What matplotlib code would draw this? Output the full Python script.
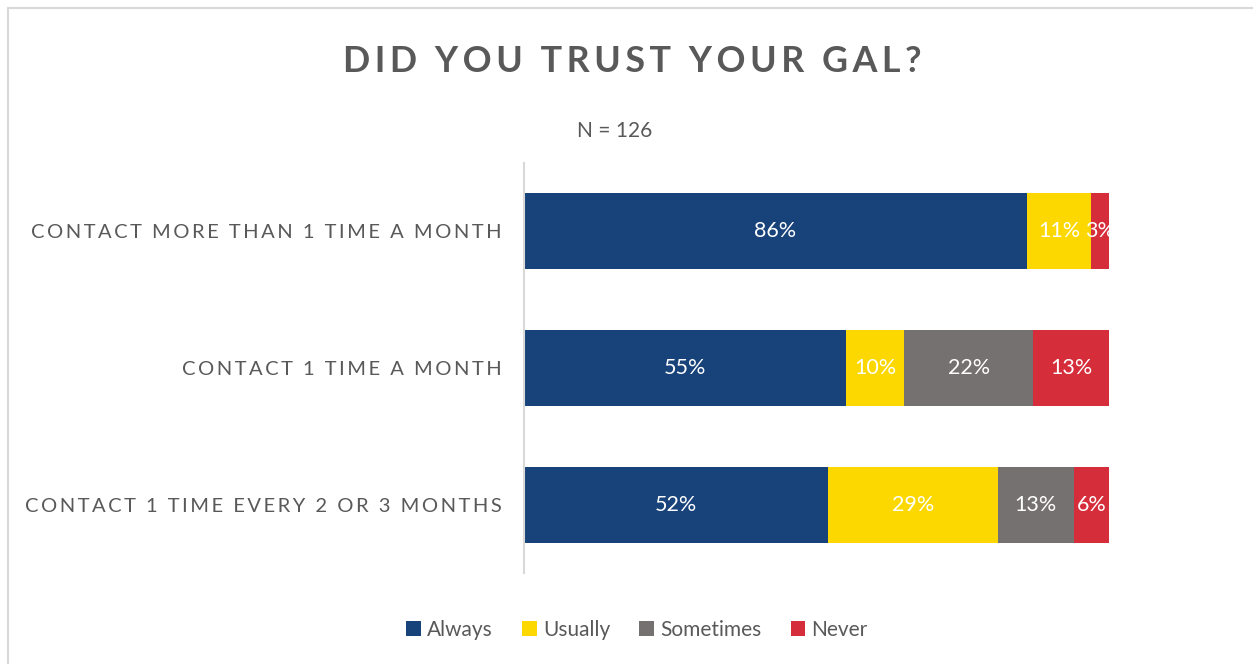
import matplotlib.pyplot as plt
from matplotlib.patches import Rectangle

categories = ["CONTACT MORE THAN 1 TIME A MONTH",
              "CONTACT 1 TIME A MONTH",
              "CONTACT 1 TIME EVERY 2 OR 3 MONTHS"]
series = ["Always", "Usually", "Sometimes", "Never"]
always = [86, 55, 52]
usually = [11, 10, 29]
sometimes = [0, 22, 13]
never = [3, 13, 6]

colors = ["#17427A", "#FCD800", "#767171", "#D62D3A"]
GRAY = "#595959"
FONT = ["Lato", "DejaVu Sans"]


def spaced(s, sep="\u2009"):
    # fake letter spacing by putting a thin space between characters
    return sep.join(s)


plt.rcParams["font.family"] = FONT

fig = plt.figure(figsize=(12.53, 6.64), dpi=100)
fig.patches.append(Rectangle((8 / 1253, -0.05), 1.2, 1 - 8 / 664 + 0.05,
                             transform=fig.transFigure, fill=False,
                             edgecolor="#D9D9D9", linewidth=1.5))

ax = fig.add_axes([524 / 1253, 1 - 573 / 664, 585 / 1253, 410 / 664])

ypos = range(len(categories))
left = [0] * len(categories)
for name, vals, col in zip(series, [always, usually, sometimes, never], colors):
    ax.barh(ypos, vals, left=left, height=0.556, color=col, label=name)
    for y, v, l in zip(ypos, vals, left):
        if v > 0:
            ax.text(l + v / 2, y, f"{v}%", ha="center", va="center",
                    color="white", fontsize=15.5, clip_on=True)
    left = [a + b for a, b in zip(left, vals)]

ax.set_xlim(0, 100)
ax.set_ylim(2.5, -0.5)
ax.set_xticks([])
ax.set_yticks(list(ypos))
ax.set_yticklabels([spaced(c) for c in categories], fontsize=14.5, color=GRAY)
ax.tick_params(axis="y", length=0, pad=16)
for side in ["top", "right", "bottom"]:
    ax.spines[side].set_visible(False)
ax.spines["left"].set_color("#D9D9D9")
ax.spines["left"].set_linewidth(1.5)

fig.text(632 / 1253, 1 - 61 / 664, spaced("DID YOU TRUST YOUR GAL?"),
         ha="center", va="center", fontsize=25.8, fontweight="bold", color=GRAY)
fig.text(615 / 1253, 1 - 131 / 664, "N = 126", ha="center", va="center",
         fontsize=15, color=GRAY)

fig.legend(loc="center", bbox_to_anchor=(637 / 1253, 1 - 630 / 664), ncol=4,
           frameon=False, fontsize=15, labelcolor=GRAY, handlelength=0.7,
           handleheight=0.7, handletextpad=0.3, columnspacing=1.4)

fig.savefig("out.png", dpi=100)
